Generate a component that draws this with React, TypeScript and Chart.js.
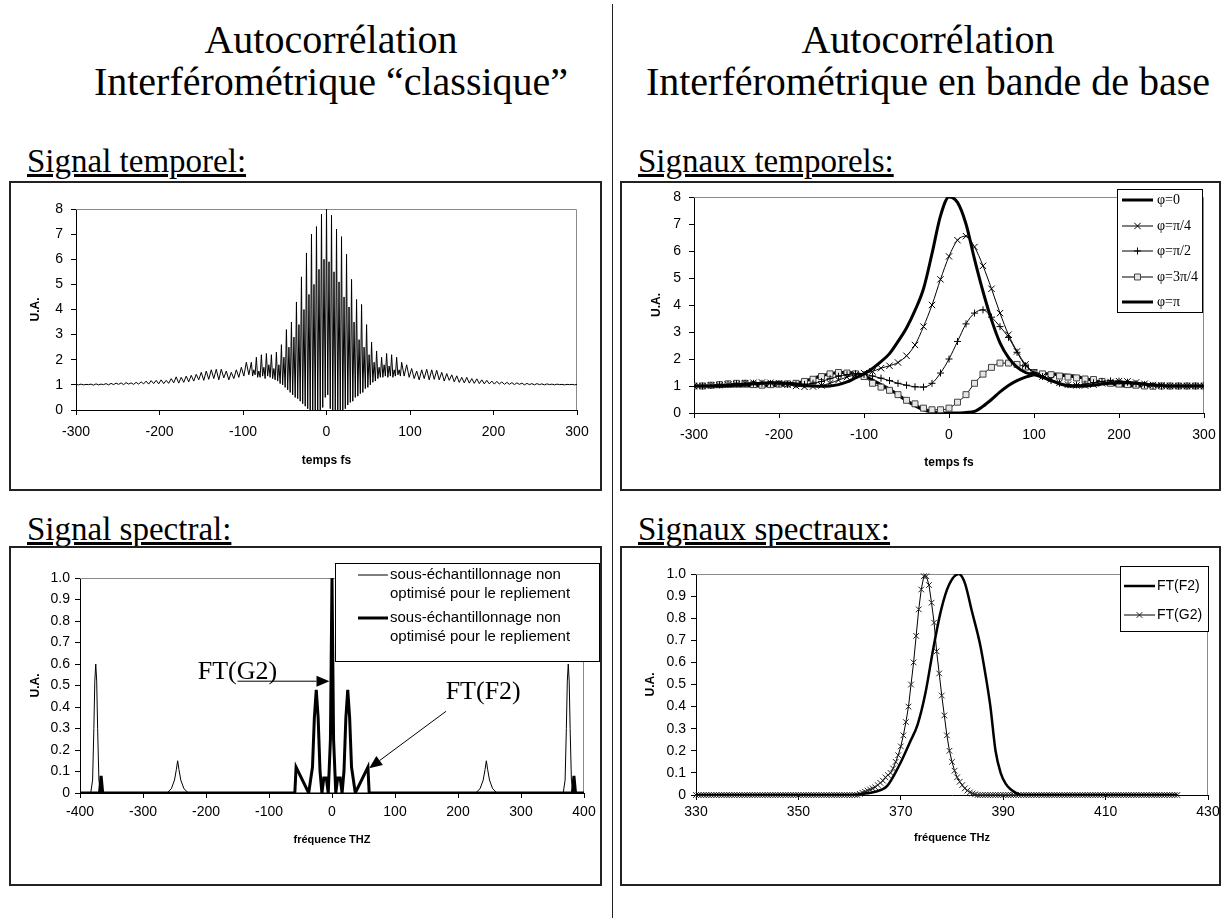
import React, { useEffect, useRef } from 'react';
import { Chart, registerables } from 'chart.js';
Chart.register(...registerables);

// ================= DATA =================
// Chart A : Signal temporel (classique)
// left tail: every 3 fs from -300 to -93 fs
const queueGaucheStart = -300;
const queueGaucheStep = 3;
const queueGauche = [
  1.02, 1.0, 1.03, 1.0, 1.02, 1.01, 1.03, 0.99, 1.04, 1.0, 1.03, 1.01, 1.05, 1.0, 1.06, 1.01, 1.07, 1.02, 1.08, 1.01,
  1.09, 1.03, 1.08, 1.02, 1.1, 1.03, 1.12, 1.04, 1.15, 1.03, 1.17, 1.05, 1.18, 1.04, 1.2, 1.05, 1.18, 1.06, 1.25, 1.08,
  1.32, 1.07, 1.3, 1.1, 1.35, 1.12, 1.38, 1.15, 1.42, 1.2, 1.5, 1.18, 1.55, 1.22, 1.6, 1.25, 1.62, 1.2, 1.62, 1.28,
  1.55, 1.2, 1.5, 1.25, 1.6, 1.3, 1.7, 1.35, 1.9, 1.4,
];
// centre: every 1.5 fs from -90 to 90 fs
const centreStart = -90;
const centreStep = 1.5;
const centre = [
  1.9, 1.35, 1.6, 1.4, 2.1, 1.3, 1.55, 1.3, 2.2, 1.35,
  1.7, 1.25, 2.25, 1.35, 1.8, 1.3, 2.2, 1.25, 1.65, 1.2,
  2.3, 1.15, 1.8, 1.05, 2.6, 1.0, 2.1, 0.9, 3.2, 0.8,
  2.5, 0.7, 3.5, 0.6, 2.9, 0.5, 4.3, 0.45, 3.4, 0.35,
  5.3, 0.25, 4.0, 0.15, 6.25, 0.05, 4.6, 0, 7.0, 0,
  5.0, 0, 7.3, 0, 5.6, 0, 7.8, 0.1, 6.0, 0.5,
  8,
  0.6, 5.9, 0.05, 7.75, 0, 5.5, 0, 7.2, 0, 5.1,
  0, 6.9, 0, 4.5, 0.05, 6.2, 0.2, 4.1, 0.3, 5.2,
  0.35, 3.5, 0.5, 4.4, 0.55, 2.8, 0.65, 4.2, 0.7, 2.5,
  0.85, 3.4, 0.9, 2.2, 1.0, 2.7, 1.1, 1.9, 1.15, 2.35,
  1.25, 1.7, 1.3, 2.1, 1.3, 1.8, 1.35, 2.25, 1.3, 1.75,
  1.35, 2.2, 1.3, 1.6, 1.35, 2.1, 1.4, 1.6, 1.35, 1.9,
];
// right tail: every 3 fs from 93 to 300 fs
const queueDroiteStart = 93;
const queueDroiteStep = 3;
const queueDroite = [
  1.35, 1.8, 1.3, 1.65, 1.25, 1.55, 1.2, 1.6, 1.25, 1.62,
  1.2, 1.6, 1.22, 1.58, 1.2, 1.5, 1.15, 1.45, 1.18, 1.4, 1.12, 1.36, 1.1, 1.3, 1.08, 1.3, 1.07, 1.25, 1.06, 1.24,
  1.05, 1.2, 1.04, 1.18, 1.04, 1.15, 1.03, 1.14, 1.03, 1.12, 1.02, 1.1, 1.02, 1.09, 1.01, 1.08, 1.02, 1.07, 1.0, 1.06,
  1.01, 1.05, 1.0, 1.05, 1.01, 1.04, 1.0, 1.04, 1.01, 1.03, 1.0, 1.03, 1.01, 1.02, 1.0, 1.02, 1.01, 1.02, 1.0, 1.02,
];

// Chart B : Signaux temporels (bande de base)
const tempsBande = [
  -300, -290, -280, -270, -260, -250, -240, -230, -220, -210,
  -200, -190, -180, -170, -160, -150, -140, -130, -120, -110,
  -100, -90, -80, -70, -60, -50, -40, -30, -20, -10,
  0,
  10, 20, 30, 40, 50, 60, 70, 80, 90, 100,
  110, 120, 130, 140, 150, 160, 170, 180, 190, 200,
  210, 220, 230, 240, 250, 260, 270, 280, 290, 300,
];
const phi0 = [
  1.0, 1.0, 1.0, 1.0, 1.02, 1.04, 1.06, 1.08, 1.1, 1.12,
  1.12, 1.1, 1.07, 1.03, 1.0, 0.99, 1.0, 1.05, 1.15, 1.3,
  1.45, 1.65, 1.9, 2.2, 2.65, 3.15, 3.8, 4.6, 5.9, 7.3,
  8.0,
  7.8, 7.0, 5.7, 4.5, 3.45, 2.6, 2.05, 1.7, 1.5, 1.42,
  1.32, 1.2, 1.08, 1.0, 0.99, 1.0, 1.03, 1.07, 1.1, 1.12,
  1.12, 1.1, 1.07, 1.04, 1.02, 1.0, 1.0, 1.0, 1.0, 1.0,
];
const phiPi4 = [
  1.0, 1.0, 1.02, 1.03, 1.05, 1.07, 1.1, 1.12, 1.13, 1.12,
  1.1, 1.05, 1.0, 0.97, 0.98, 1.02, 1.1, 1.22, 1.33, 1.42,
  1.48, 1.54, 1.66, 1.75, 1.87, 2.12, 2.52, 3.2, 4.0, 4.95,
  5.8,
  6.4, 6.55, 6.15, 5.45, 4.6, 3.7, 2.9, 2.28, 1.8, 1.5,
  1.35, 1.25, 1.12, 1.05, 1.02, 1.02, 1.05, 1.1, 1.15, 1.18,
  1.17, 1.13, 1.08, 1.04, 1.02, 1.0, 1.0, 1.0, 1.0, 1.0,
];
const phiPi2 = [
  1.0, 1.0, 1.02, 1.04, 1.06, 1.08, 1.1, 1.1, 1.1, 1.09,
  1.08, 1.06, 1.05, 1.06, 1.1, 1.17, 1.27, 1.36, 1.42, 1.45,
  1.43, 1.37, 1.29, 1.2, 1.1, 1.03, 0.97, 0.96, 1.1, 1.48,
  2.0,
  2.65, 3.3, 3.7, 3.82, 3.55, 3.2, 2.8, 2.25, 1.75, 1.5,
  1.35, 1.2, 1.1, 1.05, 1.04, 1.07, 1.12, 1.17, 1.19, 1.18,
  1.14, 1.09, 1.05, 1.02, 1.0, 1.0, 1.0, 1.0, 1.0, 1.0,
];
const phi3Pi4 = [
  1.0, 1.0, 1.03, 1.05, 1.08, 1.1, 1.1, 1.05, 1.03, 1.05,
  1.07, 1.08, 1.1, 1.17, 1.25, 1.35, 1.45, 1.5, 1.48, 1.45,
  1.35, 1.1, 0.96, 0.84, 0.68, 0.47, 0.34, 0.18, 0.12, 0.12,
  0.18,
  0.4, 0.68, 1.1, 1.44, 1.69, 1.85, 1.85, 1.8, 1.7, 1.5,
  1.45, 1.42, 1.37, 1.33, 1.3, 1.26, 1.24, 1.17, 1.1, 1.07,
  1.05, 1.03, 1.0, 0.99, 1.0, 1.0, 1.0, 1.0, 1.0, 1.0,
];
const phiPi = [
  1.0, 1.0, 1.0, 1.0, 1.0, 1.0, 1.0, 1.0, 1.0, 1.01,
  1.02, 1.05, 1.1, 1.18, 1.28, 1.38, 1.45, 1.5, 1.5, 1.47,
  1.38, 1.22, 1.05, 0.88, 0.68, 0.45, 0.27, 0.12, 0.04, 0.0,
  0.0,
  0.0, 0.02, 0.06, 0.25, 0.5, 0.78, 1.02, 1.2, 1.33, 1.42,
  1.45, 1.45, 1.43, 1.4, 1.35, 1.28, 1.2, 1.12, 1.06, 1.02,
  1.0, 1.0, 1.0, 1.0, 1.0, 1.0, 1.0, 1.0, 1.0, 1.0,
];

// Chart C : Signal spectral (sous-échantillonné)
const fineX = [
  -400, -383, -380, -378, -376.5, -375, -373.5, -372, -370, -367,
  -262, -255, -250, -247, -245, -243, -240, -235, -228,
  228, 235, 240, 243, 245, 247, 250, 255, 262,
  367, 370, 372, 373.5, 375, 376.5, 378, 380, 383, 400,
];
const fineY = [
  0, 0, 0.06, 0.3, 0.52, 0.6, 0.52, 0.3, 0.06, 0,
  0, 0.02, 0.06, 0.11, 0.15, 0.11, 0.06, 0.02, 0,
  0, 0.02, 0.06, 0.11, 0.15, 0.11, 0.06, 0.02, 0,
  0, 0.06, 0.3, 0.52, 0.6, 0.52, 0.3, 0.06, 0, 0,
];
const epaisX = [
  -400, -369, -366.5, -364, -59, -57, -37, -31, -28, -25, -22, -19, -16, -13, -9, -6, -2.5, 0,
  2.5, 6, 9, 13, 16, 19, 22, 25, 28, 31, 37, 57, 59, 381.5, 384, 386.5, 400,
];
const epaisY = [
  0, 0, 0.08, 0, 0, 0.12, 0, 0.12, 0.35, 0.48, 0.35, 0.1, 0, 0.07, 0.07, 0, 0.25, 1,
  0.25, 0, 0.07, 0.07, 0, 0.1, 0.35, 0.48, 0.35, 0.12, 0, 0.12, 0, 0, 0.08, 0, 0,
];

// Chart D : Signaux spectraux
const f2X = [330, 360, 362.5, 365, 367.3, 369.6, 371.8, 373.3, 374.8, 376.4, 377.9, 379.4, 381.3, 382.5, 383.9, 385.5, 386.5, 387.5, 388.5, 389.5, 390.5, 391.5, 392.5, 393.5, 424];
const f2Y = [0, 0, 0.005, 0.015, 0.04, 0.13, 0.24, 0.32, 0.46, 0.67, 0.84, 0.95, 1.0, 0.96, 0.83, 0.68, 0.55, 0.4, 0.2, 0.1, 0.05, 0.025, 0.01, 0, 0];
const g2Start = 330;
const g2Step = 0.5;
const g2Y = [
  0, 0, 0, 0, 0, 0, 0, 0, 0, 0, 0, 0, 0, 0, 0, 0,
  0, 0, 0, 0, 0, 0, 0, 0, 0, 0, 0, 0, 0, 0, 0, 0,
  0, 0, 0, 0, 0, 0, 0, 0, 0, 0, 0, 0, 0, 0, 0, 0,
  0, 0, 0, 0, 0, 0, 0, 0, 0, 0, 0, 0, 0, 0, 0, 0,
  0.005, 0.01, 0.015, 0.02, 0.025, 0.03, 0.035, 0.045, 0.055, 0.065,
  0.08, 0.09, 0.1, 0.12, 0.15, 0.18, 0.22, 0.27, 0.33, 0.4,
  0.5, 0.6, 0.72, 0.84, 0.93, 0.99, 0.99, 0.95, 0.87, 0.78,
  0.65, 0.55, 0.45, 0.36, 0.27, 0.2, 0.15, 0.11, 0.08, 0.06,
  0.045, 0.03, 0.02, 0.012, 0.007, 0.003,
  0, 0, 0, 0, 0, 0, 0, 0, 0, 0, 0, 0, 0, 0, 0, 0,
  0, 0, 0, 0, 0, 0, 0, 0, 0, 0, 0, 0, 0, 0, 0, 0,
  0, 0, 0, 0, 0, 0, 0, 0, 0, 0, 0, 0, 0, 0, 0, 0,
  0, 0, 0, 0, 0, 0, 0, 0, 0, 0, 0, 0, 0, 0, 0, 0,
  0, 0, 0, 0, 0, 0, 0, 0, 0, 0, 0, 0, 0, 0, 0,
];

// ================= STYLE / HELPERS =================
const SANS = '"Liberation Sans", Arial, sans-serif';
const SERIF = '"Liberation Serif", "Times New Roman", serif';
Chart.defaults.font.family = SANS;
const TICK_FONT = { family: SANS, size: 14 };
const TITLE_FONT = { family: SANS, size: 12, weight: 'bold' as const };
const TL = 5;

function drawMarker(ctx: CanvasRenderingContext2D, style: string, x: number, y: number, r: number, stroke: string, fill: string) {
  ctx.save();
  ctx.lineWidth = 1;
  ctx.strokeStyle = stroke;
  ctx.fillStyle = fill;
  ctx.beginPath();
  if (style === 'cross') {
    ctx.moveTo(x - r, y); ctx.lineTo(x + r, y);
    ctx.moveTo(x, y - r); ctx.lineTo(x, y + r);
    ctx.stroke();
  } else if (style === 'crossRot') {
    const d = r * Math.SQRT1_2;
    ctx.moveTo(x - d, y - d); ctx.lineTo(x + d, y + d);
    ctx.moveTo(x - d, y + d); ctx.lineTo(x + d, y - d);
    ctx.stroke();
  } else if (style === 'rect') {
    const d = r * Math.SQRT1_2;
    ctx.rect(x - d, y - d, 2 * d, 2 * d);
    ctx.fill(); ctx.stroke();
  }
  ctx.restore();
}

const framePlugin = {
  id: 'plotFrame',
  beforeDatasetsDraw(chart: any) {
    const { ctx, chartArea: a } = chart;
    ctx.save();
    ctx.strokeStyle = '#8a8a8a';
    ctx.lineWidth = 1;
    ctx.beginPath();
    ctx.moveTo(a.left, Math.round(a.top) + 0.5);
    ctx.lineTo(Math.round(a.right) - 0.5, Math.round(a.top) + 0.5);
    ctx.lineTo(Math.round(a.right) - 0.5, a.bottom);
    ctx.stroke();
    ctx.restore();
  },
};

const boxLegend = {
  id: 'boxLegend',
  afterDraw(chart: any, _args: any, o: any) {
    if (!o || !o.rows) return;
    const ctx: CanvasRenderingContext2D = chart.ctx;
    ctx.save();
    ctx.fillStyle = '#fff';
    ctx.fillRect(o.x, o.y, o.w, o.h);
    ctx.strokeStyle = '#000';
    ctx.lineWidth = 1;
    ctx.strokeRect(o.x + 0.5, o.y + 0.5, o.w - 1, o.h - 1);
    chart.data.datasets.forEach((ds: any, i: number) => {
      const y = o.rows[i];
      ctx.strokeStyle = '#000';
      ctx.lineWidth = ds.borderWidth;
      ctx.beginPath();
      ctx.moveTo(o.sx0, y);
      ctx.lineTo(o.sx1, y);
      ctx.stroke();
      if (ds.pointRadius > 0) {
        drawMarker(ctx, ds.pointStyle, (o.sx0 + o.sx1) / 2, y, ds.pointRadius, ds.pointBorderColor, ds.pointBackgroundColor);
      }
      ctx.fillStyle = '#000';
      ctx.font = o.font;
      ctx.textAlign = 'left';
      ctx.textBaseline = 'middle';
      String(ds.label).split('\n').forEach((t, k) => ctx.fillText(t, o.tx, y + k * (o.lineGap || 0)));
    });
    ctx.restore();
  },
};

const arrowNotes = {
  id: 'arrowNotes',
  afterDatasetsDraw(chart: any, _args: any, o: any) {
    if (!o || !o.items) return;
    const { ctx, scales } = chart;
    const sx = scales.x, sy = scales.y;
    ctx.save();
    o.items.forEach((it: any) => {
      ctx.font = o.font;
      ctx.fillStyle = '#000';
      ctx.textAlign = 'center';
      ctx.textBaseline = 'middle';
      ctx.fillText(it.text, sx.getPixelForValue(it.at[0]), sy.getPixelForValue(it.at[1]));
      const x0 = sx.getPixelForValue(it.from[0]), y0 = sy.getPixelForValue(it.from[1]);
      const x1 = sx.getPixelForValue(it.to[0]), y1 = sy.getPixelForValue(it.to[1]);
      const ang = Math.atan2(y1 - y0, x1 - x0);
      const hl = 13, hw = 5.5;
      const c = Math.cos(ang), s = Math.sin(ang);
      ctx.strokeStyle = '#000';
      ctx.lineWidth = 1;
      ctx.beginPath();
      ctx.moveTo(x0, y0);
      ctx.lineTo(x1 - hl * c, y1 - hl * s);
      ctx.stroke();
      ctx.beginPath();
      ctx.moveTo(x1, y1);
      ctx.lineTo(x1 - hl * c + hw * s, y1 - hl * s - hw * c);
      ctx.lineTo(x1 - hl * c - hw * s, y1 - hl * s + hw * c);
      ctx.closePath();
      ctx.fill();
    });
    ctx.restore();
  },
};

type Geo = { L: number; T: number; R: number; B: number; yTitleX: number; xTitleY: number; xLabelY: number; yLabelRight: number };

function baseOptions(W: number, H: number, g: Geo, xr: number[], yr: number[], xTitle: string, titleSize: number) {
  const tickLH = TICK_FONT.size * 1.2;
  const tFont = { ...TITLE_FONT, size: titleSize };
  const titleLH = titleSize * 1.2;
  const grid = { display: true, drawOnChartArea: false, drawTicks: true, tickLength: TL, color: '#000', tickColor: '#000', tickWidth: 1 };
  return {
    responsive: false,
    maintainAspectRatio: false,
    devicePixelRatio: 1,
    animation: false as const,
    events: [] as any[],
    layout: { padding: { left: 0, top: g.T, right: W - g.R, bottom: 0 } },
    scales: {
      x: {
        type: 'linear' as const,
        position: 'bottom' as const,
        min: xr[0], max: xr[1],
        ticks: { stepSize: xr[2], font: TICK_FONT, color: '#000', padding: g.xLabelY - g.B - TL - tickLH / 2, maxRotation: 0, autoSkip: false },
        grid,
        border: { display: true, color: '#000', width: 1 },
        title: { display: true, text: xTitle, font: tFont, color: '#000', padding: { top: 0, bottom: H - g.xTitleY - titleLH / 2 } },
        afterFit: (s: any) => { s.height = H - g.B; s.paddingLeft = 0; s.paddingRight = 0; },
      },
      y: {
        type: 'linear' as const,
        position: 'left' as const,
        min: yr[0], max: yr[1],
        ticks: { stepSize: yr[2], font: TICK_FONT, color: '#000', padding: g.L - TL - g.yLabelRight, autoSkip: false },
        grid,
        border: { display: true, color: '#000', width: 1 },
        title: { display: true, text: 'U.A.', font: { ...TITLE_FONT, size: 12 }, color: '#000', padding: { top: g.yTitleX - 7.2, bottom: 0 } },
        afterFit: (s: any) => { s.width = g.L; s.paddingTop = 0; s.paddingBottom = 0; },
      },
    },
  };
}

type Box = { l: number; t: number; w: number; h: number };

function ChartBox({ box, build }: { box: Box; build: (W: number, H: number) => any }) {
  const ref = useRef<HTMLCanvasElement | null>(null);
  const W = box.w - 4, H = box.h - 4;
  useEffect(() => {
    const chart = new Chart(ref.current as HTMLCanvasElement, build(W, H));
    return () => chart.destroy();
  }, []);
  return (
    <div style={{ position: 'absolute', left: box.l, top: box.t, width: box.w, height: box.h, border: '2px solid #222', boxSizing: 'border-box', background: '#fff' }}>
      <canvas ref={ref} width={W} height={H} style={{ display: 'block', width: W, height: H }} />
    </div>
  );
}

// ---- chart builders ----
const boxA: Box = { l: 9, t: 181, w: 593, h: 310 };
const boxB: Box = { l: 620, t: 181, w: 601, h: 310 };
const boxC: Box = { l: 9, t: 546, w: 593, h: 340 };
const boxD: Box = { l: 620, t: 546, w: 601, h: 340 };

function buildA(W: number, H: number) {
  const g: Geo = { L: 65, T: 26, R: 566, B: 227, yTitleX: 25, xTitleY: 278, xLabelY: 249, yLabelRight: 52 };
  const opts: any = baseOptions(W, H, g, [-300, 300, 100], [0, 8, 1], 'temps fs', 12);
  opts.plugins = { legend: { display: false }, tooltip: { enabled: false } };
  const pts = [
    ...queueGauche.map((v, i) => ({ x: queueGaucheStart + i * queueGaucheStep, y: v })),
    ...centre.map((v, i) => ({ x: centreStart + i * centreStep, y: v })),
    ...queueDroite.map((v, i) => ({ x: queueDroiteStart + i * queueDroiteStep, y: v })),
  ];
  return {
    type: 'line',
    data: {
      datasets: [{
        label: 'signal',
        data: pts,
        borderColor: '#000', borderWidth: 1, pointRadius: 0, tension: 0, fill: false,
      }],
    },
    options: opts,
    plugins: [framePlugin],
  };
}

function buildB(W: number, H: number) {
  const g: Geo = { L: 72, T: 14, R: 582, B: 230, yTitleX: 35, xTitleY: 280, xLabelY: 252, yLabelRight: 59 };
  const opts: any = baseOptions(W, H, g, [-300, 300, 100], [0, 8, 1], 'temps fs', 12);
  opts.plugins = {
    legend: { display: false }, tooltip: { enabled: false },
    boxLegend: { x: 495, y: 6, w: 86, h: 124, rows: [17, 43, 68, 94, 119], sx0: 500, sx1: 531, tx: 535, font: `14px ${SERIF}` },
  };
  const mk = (label: string, vals: number[], bw: number, style: string | false, r: number, fillC: string, strokeC: string) => ({
    label,
    data: vals.map((v, i) => ({ x: tempsBande[i], y: v })),
    borderColor: '#000', borderWidth: bw, fill: false,
    cubicInterpolationMode: 'monotone',
    pointStyle: style || 'circle', pointRadius: style ? r : 0,
    pointBorderColor: strokeC, pointBackgroundColor: fillC, pointBorderWidth: 1,
  });
  return {
    type: 'line',
    data: {
      datasets: [
        mk('φ=0', phi0, 3, false, 0, '#000', '#000'),
        mk('φ=π/4', phiPi4, 1, 'crossRot', 4.5, '#000', '#000'),
        mk('φ=π/2', phiPi2, 1, 'cross', 3.5, '#000', '#000'),
        mk('φ=3π/4', phi3Pi4, 1, 'rect', 4.2, '#e6e6e6', '#444'),
        mk('φ=π', phiPi, 3, false, 0, '#000', '#000'),
      ],
    },
    options: opts,
    plugins: [framePlugin, boxLegend],
  };
}

function buildC(W: number, H: number) {
  const g: Geo = { L: 69, T: 30, R: 573, B: 245, yTitleX: 25, xTitleY: 292, xLabelY: 264, yLabelRight: 59 };
  const opts: any = baseOptions(W, H, g, [-400, 400, 100], [0, 1, 0.1], 'fréquence THZ', 11);
  opts.plugins = {
    legend: { display: false }, tooltip: { enabled: false },
    boxLegend: { x: 324, y: 15, w: 265, h: 99, rows: [27, 70], lineGap: 19, sx0: 347, sx1: 377, tx: 379, font: `15px ${SANS}` },
    arrowNotes: {
      font: `26px ${SERIF}`,
      items: [
        { text: 'FT(G2)', at: [-150, 0.56], from: [-150, 0.52], to: [-4, 0.52] },
        { text: 'FT(F2)', at: [240, 0.47], from: [181, 0.38], to: [59, 0.115] },
      ],
    },
  };
  return {
    type: 'line',
    data: {
      datasets: [
        {
          label: 'sous-échantillonnage non\noptimisé pour le repliement',
          data: fineX.map((x, i) => ({ x, y: fineY[i] })),
          borderColor: '#000', borderWidth: 1, pointRadius: 0, tension: 0, fill: false,
        },
        {
          label: 'sous-échantillonnage non\noptimisé pour le repliement',
          data: epaisX.map((x, i) => ({ x, y: epaisY[i] })),
          borderColor: '#000', borderWidth: 3, pointRadius: 0, tension: 0, fill: false,
        },
      ],
    },
    options: opts,
    plugins: [framePlugin, arrowNotes, boxLegend],
  };
}

function buildD(W: number, H: number) {
  const g: Geo = { L: 74, T: 26, R: 586, B: 247, yTitleX: 29, xTitleY: 290, xLabelY: 264, yLabelRight: 64 };
  const opts: any = baseOptions(W, H, g, [330, 430, 20], [0, 1, 0.1], 'fréquence THz', 11);
  opts.plugins = {
    legend: { display: false }, tooltip: { enabled: false },
    boxLegend: { x: 498, y: 18, w: 89, h: 66, rows: [38, 67], sx0: 502, sx1: 533, tx: 535, font: `14px ${SANS}` },
  };
  return {
    type: 'line',
    data: {
      datasets: [
        {
          label: 'FT(F2)',
          data: f2X.map((x, i) => ({ x, y: f2Y[i] })),
          borderColor: '#000', borderWidth: 2.5, pointRadius: 0, cubicInterpolationMode: 'monotone', fill: false,
        },
        {
          label: 'FT(G2)',
          data: g2Y.map((v, i) => ({ x: g2Start + i * g2Step, y: v })),
          borderColor: '#000', borderWidth: 1, fill: false, tension: 0,
          pointStyle: 'crossRot', pointRadius: 4, pointBorderColor: '#222', pointBackgroundColor: '#222', pointBorderWidth: 1,
          clip: 8,
        },
      ],
    },
    options: opts,
    plugins: [framePlugin, boxLegend],
  };
}

const headStyle: React.CSSProperties = {
  position: 'absolute', fontFamily: SERIF, fontSize: 40, lineHeight: '42px', color: '#000', textAlign: 'center', whiteSpace: 'nowrap', width: 600,
};
const subStyle: React.CSSProperties = {
  position: 'absolute', fontFamily: SERIF, fontSize: 33, lineHeight: '32px', color: '#000', textDecoration: 'underline', whiteSpace: 'nowrap',
};

export default function App() {
  return (
    <div style={{ position: 'absolute', left: 0, top: 0, width: 1228, height: 918, background: '#fff', overflow: 'hidden' }}>
      <div style={{ position: 'absolute', left: 612, top: 4, width: 1, height: 914, background: '#222' }} />
      <div style={{ ...headStyle, left: 31, top: 19 }}>Autocorrélation<br />Interférométrique “classique”</div>
      <div style={{ ...headStyle, left: 628, top: 19 }}>Autocorrélation<br />Interférométrique en bande de base</div>
      <div style={{ ...subStyle, left: 27, top: 145 }}>Signal temporel:</div>
      <div style={{ ...subStyle, left: 638, top: 145 }}>Signaux temporels:</div>
      <div style={{ ...subStyle, left: 27, top: 513 }}>Signal spectral:</div>
      <div style={{ ...subStyle, left: 638, top: 513 }}>Signaux spectraux:</div>
      <ChartBox box={boxA} build={buildA} />
      <ChartBox box={boxB} build={buildB} />
      <ChartBox box={boxC} build={buildC} />
      <ChartBox box={boxD} build={buildD} />
    </div>
  );
}
